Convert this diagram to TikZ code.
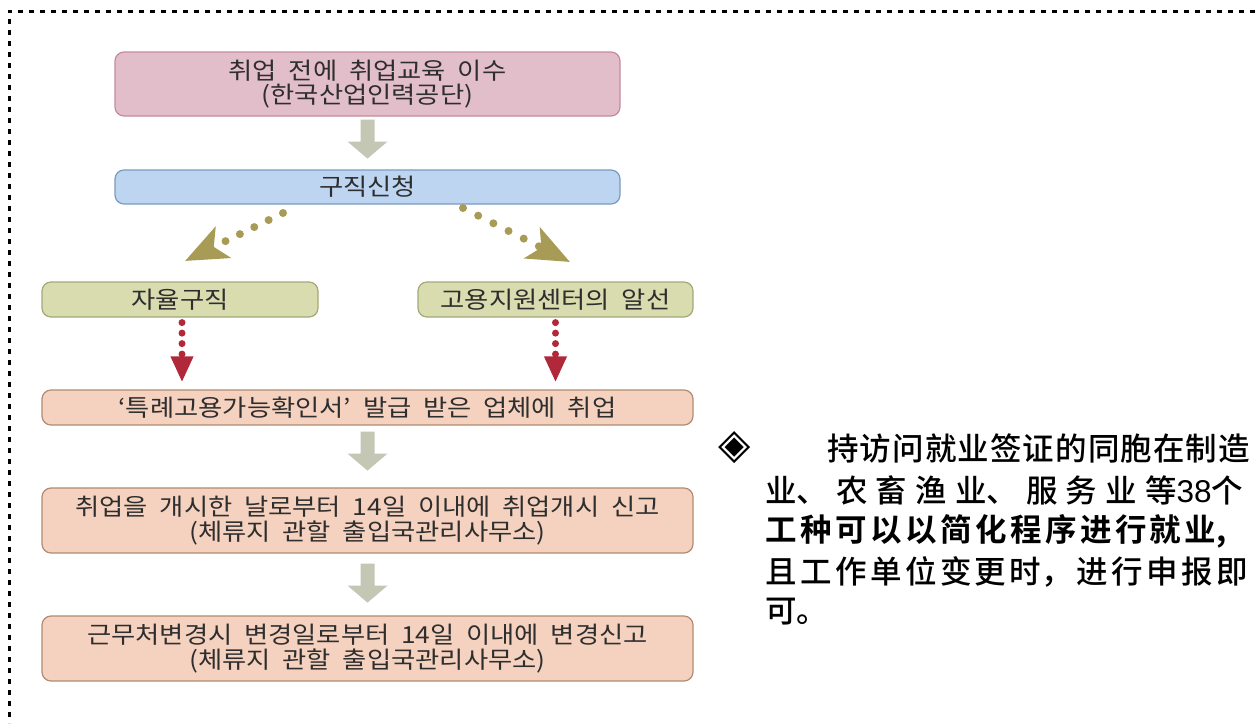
\documentclass[tikz,border=0pt]{standalone}
\usepackage{fontspec}
\newfontfamily\krfont{Noto Sans CJK KR}[FakeStretch=1.12,WordSpace=2]
\newfontfamily\zhfont{Noto Sans CJK SC}[UprightFont={* Medium},BoldFont={* Bold}]
\newfontfamily\digfont{Liberation Sans}
\newfontfamily\symfont{DejaVu Sans}
\usetikzlibrary{arrows.meta,calc}
\definecolor{pinkfill}{HTML}{E2BECB}
\definecolor{pinkdraw}{HTML}{C58C9C}
\definecolor{bluefill}{HTML}{BDD5F0}
\definecolor{bluedraw}{HTML}{7B9AC2}
\definecolor{greenfill}{HTML}{D8DCAE}
\definecolor{greendraw}{HTML}{A3A97A}
\definecolor{peachfill}{HTML}{F5D2BF}
\definecolor{peachdraw}{HTML}{B48A70}
\definecolor{arrowgray}{HTML}{C5C7B5}
\definecolor{olivedot}{HTML}{A89B55}
\definecolor{arrowred}{HTML}{B0283A}
\definecolor{txtgray}{HTML}{2E2E2E}
\newcommand\krsetup{\krfont\fontsize{23.5}{24.5}\selectfont}
\newcommand\zhsetup{\zhfont\fontsize{31.5}{36}\selectfont}
\newcommand\zhjust{\XeTeXlinebreaklocale "zh"\XeTeXlinebreakskip=0pt plus 1fil\relax\parfillskip=0pt\relax}
\begin{document}
\begin{tikzpicture}[x=1pt,y=-1pt,
  flowbox/.style={rounded corners=9pt, line width=1.2pt, inner sep=0pt, align=center,
    text=txtgray, font=\krsetup},
  pinkbox/.style={flowbox, draw=pinkdraw, fill=pinkfill},
  bluebox/.style={flowbox, draw=bluedraw, fill=bluefill},
  greenbox/.style={flowbox, draw=greendraw, fill=greenfill},
  peachbox/.style={flowbox, draw=peachdraw, fill=peachfill},
  grayarrow/.pic={\fill[arrowgray] (-7,0) -- (-7,22) -- (-20,22) -- (0,39) -- (20,22) -- (7,22) -- (7,0) -- cycle;},
  reddots/.style={draw=arrowred, line width=7pt, line cap=round, dash pattern=on 0pt off 10.5pt,
    -{Triangle[length=26pt,width=21pt]}},
  olivedots/.style={draw=olivedot, line width=8pt, line cap=round, dash pattern=on 0pt off 16pt,
    -{Stealth[length=42pt,width=34pt,inset=10pt]}},
  bordline/.style={draw=black, line width=3pt, dash pattern=on 5pt off 6pt},
  zhline/.style={anchor=west, inner sep=0pt, align=justify, text=black, font=\zhsetup}
]
\useasboundingbox (0,0) rectangle (1255,723);
\fill[white] (0,0) rectangle (1255,723);
% dotted frame (top and left)
\draw[bordline] (1255,11) -- (9,11) -- (9,723);

% boxes
\node[pinkbox, minimum width=505pt, minimum height=64pt] (b1) at (367.5,84)
  {취업 전에 취업교육 이수\\(한국산업인력공단)};
\node[bluebox, minimum width=505pt, minimum height=34pt] (b2) at (367.5,187) {구직신청};
\node[greenbox, minimum width=276pt, minimum height=35pt] (b3) at (180,299.5) {자율구직};
\node[greenbox, minimum width=275pt, minimum height=35pt] (b4) at (555.5,299.5) {고용지원센터의 알선};
\node[peachbox, minimum width=651pt, minimum height=35pt] (b5) at (367.5,407.5)
  {‘특례고용가능확인서’ 발급 받은 업체에 취업};
\node[peachbox, minimum width=651pt, minimum height=65pt] (b6) at (367.5,520.5)
  {취업을 개시한 날로부터 14일 이내에 취업개시 신고\\(체류지 관할 출입국관리사무소)};
\node[peachbox, minimum width=651pt, minimum height=65pt] (b7) at (367.5,648.5)
  {근무처변경시 변경일로부터 14일 이내에 변경신고\\(체류지 관할 출입국관리사무소)};

% gray block arrows
\path ($(b1.south)+(0,3)$) pic {grayarrow};
\path ($(b5.south)+(0,6)$) pic {grayarrow};
\path ($(b6.south)+(0,10)$) pic {grayarrow};

% olive dotted arrows
\coordinate (o1s) at (283,213);
\coordinate (o1e) at (185,261);
\coordinate (o2s) at (463,208);
\coordinate (o2e) at (570,262);
\draw[olivedots] (o1s) -- (o1e);
\draw[olivedots, dash pattern=on 0pt off 17pt] (o2s) -- (o2e);

% red dotted arrows
\draw[reddots] ($(b3.south)+(2,5)$) -- ($(b3.south |- b5.north)+(2,-7)$);
\draw[reddots] ($(b4.south)+(0,5)$) -- ($(b4.south |- b5.north)+(0,-7)$);

% right-hand text
\node[inner sep=0pt, font=\symfont\fontsize{42}{44}\selectfont] (dia) at (735,448) {◈};
\node[zhline, text width=424pt] (l1) at (827,448) {\zhjust 持访问就业签证的同胞在制造};
\node[zhline, text width=486pt] (l2) at (765,490) {\zhjust 业、农畜渔业、服务业等\hbox{{\digfont 38}个}};
\node[zhline, text width=465pt] (l3) at (765,531) {\zhjust\bfseries 工种可以以简化程序进行就业,};
\node[zhline, text width=486pt] (l4) at (765,572) {\zhjust 且工作单位变更时，进行申报即};
\node[zhline] (l5) at (765,612) {可。};
\end{tikzpicture}
\end{document}
